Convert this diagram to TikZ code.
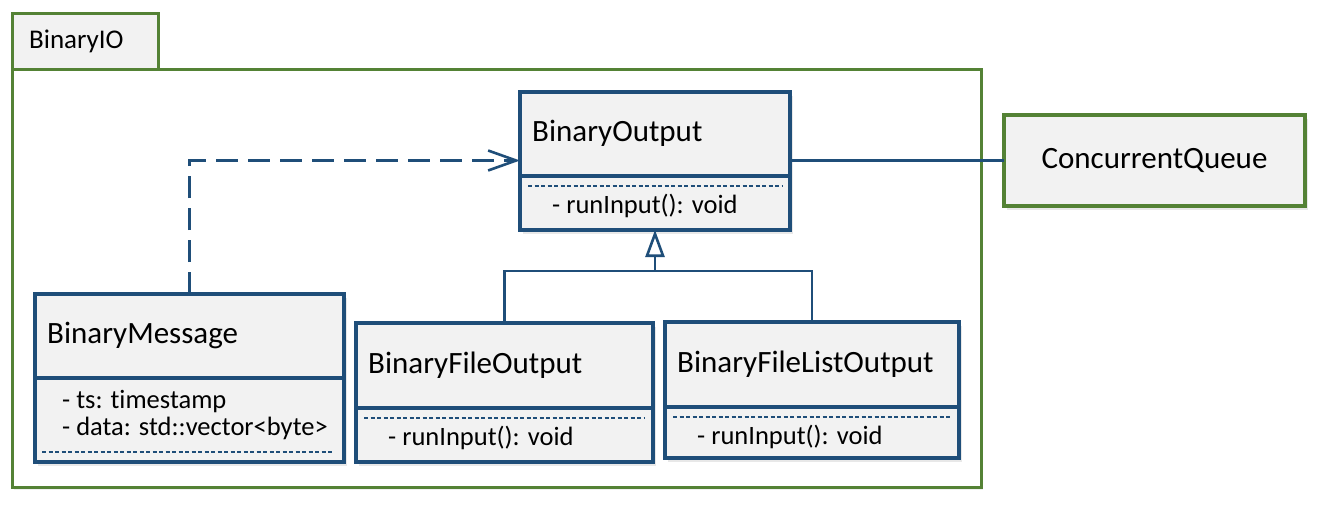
\documentclass[tikz,border=0pt]{standalone}
\usepackage{fontspec}
\setmainfont{Carlito}[Ligatures=NoCommon]
\usetikzlibrary{positioning,arrows.meta,shadows}
\definecolor{umlblue}{RGB}{31,78,121}
\definecolor{pkggreen}{RGB}{84,130,53}
\definecolor{boxgray}{RGB}{242,242,242}
\tikzset{
  umlbox/.style={draw=umlblue, line width=3.2pt, fill=boxgray, inner sep=0pt, outer sep=0pt,
    anchor=north west, drop shadow={shadow xshift=3pt, shadow yshift=-4pt, opacity=0.18}},
  pkgbox/.style={draw=pkggreen, line width=3pt, inner sep=0pt, outer sep=0pt, anchor=north west},
  headtext/.style={font=\fontsize{31}{36}\selectfont, inner sep=0pt, text height=15pt, text depth=0pt, anchor=west},
  membertext/.style={font=\fontsize{26.5}{30}\selectfont, inner sep=0pt, anchor=base west},
  sepline/.style={draw=umlblue, line width=1.5pt, dash pattern=on 4pt off 2.5pt},
  link/.style={draw=umlblue, line width=2.6pt},
}
\begin{document}
\begin{tikzpicture}[x=1pt, y=-1pt]
    \useasboundingbox (0,0) rectangle (1336,504);
    % package frame with its tab
    \node[pkgbox, fill=boxgray, minimum width=146pt, minimum height=56pt,
      drop shadow={shadow xshift=2pt, shadow yshift=-3pt, opacity=0.12}] (pkgtab) at (12,13) {};
    \node[headtext, font=\fontsize{27}{32}\selectfont, right=17pt of pkgtab.west] (pkgname) {BinaryIO};
    \node[pkgbox, fill=white, minimum width=969pt, minimum height=418pt,
      drop shadow={shadow xshift=2pt, shadow yshift=-3pt, opacity=0.12}] (pkg) at (12,69) {};
    
    %% classes with one operation: name/x/y/width/head height/body height/label
    \foreach \cls/\x/\y/\w/\hh/\bh/\t in
    {bo/520/92/270/84/54/BinaryOutput,
        bfo/356/323/297/85/54/BinaryFileOutput,
        bflo/665/322/294/85/51/BinaryFileListOutput
    }
    {
        \node[umlbox, minimum width=\w pt, minimum height=\hh pt] (\cls) at (\x,\y) {};
        \node[umlbox, minimum width=\w pt, minimum height=\bh pt] (\cls-m) at (\cls.south west) {};
        \node[headtext, right=12pt of \cls.west] (\cls-name) {\t};
        \draw[sepline] ([xshift=8pt,yshift=-10pt]\cls-m.north west) -- ([xshift=-8pt,yshift=-10pt]\cls-m.north east);
        \node[membertext] (\cls-op) at ([xshift=32pt,yshift=-37pt]\cls-m.north west) {- runInput(): void};
    };
    
    % message class
    \node[umlbox, minimum width=309pt, minimum height=84pt] (bm) at (35,294) {};
    \node[umlbox, minimum width=309pt, minimum height=84pt] (bm-m) at (bm.south west) {};
    \node[headtext, right=12pt of bm.west] (bm-name) {BinaryMessage};
    \node[membertext] (bm-ts) at ([xshift=27pt,yshift=-30pt]bm-m.north west) {- ts: timestamp};
    \node[membertext] (bm-data) at ([xshift=27pt,yshift=-57pt]bm-m.north west) {- data: std::vector<byte>};
    \draw[sepline] ([xshift=7pt,yshift=-74pt]bm-m.north west) -- ([xshift=-10pt,yshift=-74pt]bm-m.north east);
    
    % outside the package
    \node[umlbox, draw=pkggreen, minimum width=301pt, minimum height=91pt,
      font=\fontsize{31}{36}\selectfont] (cq) at (1004,115) {ConcurrentQueue};
    
    % connectors
    \draw[link] (bo.east |- cq.west) -- (cq.west);
    \draw[link, dash pattern=on 22pt off 10pt, -{Straight Barb[length=28pt,width=20pt]}]
      (bm.north) |- (bo.west |- cq.west);
    \coordinate (fork) at ([yshift=-41pt]bo-m.south);
    \draw[link] (bfo.north) |- (fork) -| (bflo.north);
    \draw[link, -{Triangle[open, length=27pt, width=19pt]}] (fork) -- (bo-m.south);
\end{tikzpicture}
\end{document}
